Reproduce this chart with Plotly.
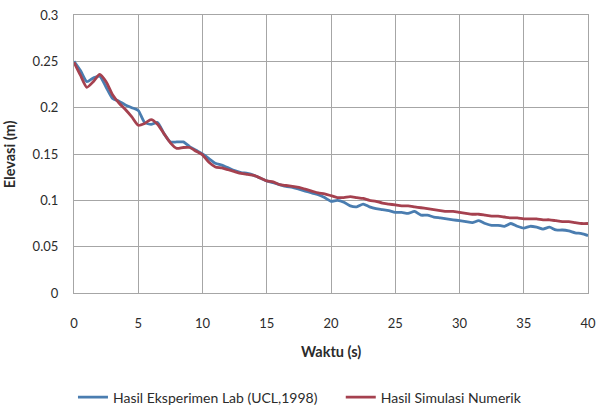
import plotly.graph_objects as go

time_s = [i * 0.5 for i in range(81)]

eksperimen = [
    0.250, 0.240, 0.228, 0.232, 0.234, 0.222, 0.210, 0.207, 0.203, 0.200,
    0.197, 0.184, 0.182, 0.184, 0.172, 0.163, 0.163, 0.163, 0.158, 0.154,
    0.150, 0.145, 0.140, 0.138, 0.135, 0.132, 0.130, 0.129, 0.127, 0.124,
    0.121, 0.119, 0.117, 0.115, 0.114, 0.112, 0.110, 0.108, 0.106, 0.103,
    0.099, 0.100, 0.098, 0.094, 0.093, 0.096, 0.093, 0.091, 0.090, 0.089,
    0.087, 0.087, 0.086, 0.088, 0.084, 0.084, 0.082, 0.081, 0.080, 0.079,
    0.078, 0.077, 0.076, 0.078, 0.075, 0.073, 0.073, 0.072, 0.075, 0.072,
    0.070, 0.072, 0.071, 0.069, 0.071, 0.068, 0.068, 0.067, 0.065, 0.064,
    0.062,
]

simulasi = [
    0.249, 0.235, 0.222, 0.228, 0.236, 0.228, 0.214, 0.205, 0.198, 0.190,
    0.181, 0.183, 0.187, 0.182, 0.172, 0.162, 0.156, 0.157, 0.157, 0.153,
    0.149, 0.141, 0.136, 0.135, 0.133, 0.131, 0.129, 0.128, 0.127, 0.124,
    0.121, 0.120, 0.117, 0.116, 0.115, 0.114, 0.112, 0.110, 0.108, 0.107,
    0.105, 0.103, 0.103, 0.104, 0.103, 0.102, 0.100, 0.099, 0.097, 0.096,
    0.095, 0.094, 0.094, 0.093, 0.092, 0.091, 0.090, 0.089, 0.088, 0.088,
    0.087, 0.086, 0.085, 0.085, 0.084, 0.083, 0.083, 0.082, 0.081, 0.081,
    0.080, 0.080, 0.080, 0.079, 0.079, 0.078, 0.077, 0.077, 0.076, 0.075,
    0.075,
]

x_ticks = [0, 5, 10, 15, 20, 25, 30, 35, 40]
y_ticks = [0, 0.05, 0.1, 0.15, 0.2, 0.25, 0.3]
y_tick_labels = ["0", "0.05", "0.1", "0.15", "0.2", "0.25", "0.3"]

FONT = "Lato, 'Open Sans', sans-serif"
TXT = "#2b2b2b"

fig = go.Figure()
fig.add_trace(go.Scatter(
    x=time_s, y=eksperimen, mode="lines",
    name="Hasil Eksperimen Lab (UCL,1998)", legend="legend",
    line=dict(color="#4a7db0", width=2.8, shape="spline", smoothing=0.6),
))
fig.add_trace(go.Scatter(
    x=time_s, y=simulasi, mode="lines",
    name="Hasil Simulasi Numerik", legend="legend2",
    line=dict(color="#a5414f", width=2.8, shape="spline", smoothing=0.6),
))

legend_style = dict(
    orientation="h", xanchor="left", y=-0.376, yanchor="middle",
    font=dict(size=14, color=TXT), itemwidth=30, bgcolor="rgba(0,0,0,0)",
)

fig.update_layout(
    width=597, height=414,
    margin=dict(l=74, r=9, t=15, b=121, autoexpand=False),
    paper_bgcolor="white", plot_bgcolor="white",
    font=dict(family=FONT, size=13, color=TXT),
    showlegend=True,
    legend=dict(x=-0.002, **legend_style),
    legend2=dict(x=0.519, **legend_style),
    annotations=[
        dict(text="<b>Waktu (s)</b>", xref="paper", yref="paper",
             x=0.5, y=-0.212, xanchor="center", yanchor="middle",
             showarrow=False, font=dict(size=14.5, color=TXT)),
        dict(text="<b>Elevasi (m)</b>", xref="paper", yref="paper",
             x=-0.126, y=0.5, xanchor="center", yanchor="middle",
             textangle=-90, showarrow=False, font=dict(size=14.5, color=TXT)),
    ],
)
fig.update_xaxes(
    range=[0, 40], tickvals=x_ticks, ticktext=[str(v) for v in x_ticks],
    showgrid=True, gridcolor="#a6a6a6", gridwidth=1.2,
    showline=True, linecolor="#a6a6a6", linewidth=1.2, mirror=True,
    zeroline=False, automargin=False, ticklabeloverflow="allow",
    ticks="outside", ticklen=18, tickcolor="rgba(0,0,0,0)",
    tickfont=dict(size=13, color=TXT),
)
fig.update_yaxes(
    range=[0, 0.3], tickvals=y_ticks, ticktext=y_tick_labels,
    showgrid=True, gridcolor="#a6a6a6", gridwidth=1.2,
    showline=True, linecolor="#a6a6a6", linewidth=1.2, mirror=True,
    zeroline=False, automargin=False, ticklabeloverflow="allow",
    ticks="outside", ticklen=12, tickcolor="rgba(0,0,0,0)",
    tickfont=dict(size=13, color=TXT),
)

# remove the default 8px page margin so the figure fills the window exactly
fig.write_html(
    "out.html",
    config={"displayModeBar": False},
    post_script="document.body.style.margin='0';document.body.style.overflow='hidden';",
)
